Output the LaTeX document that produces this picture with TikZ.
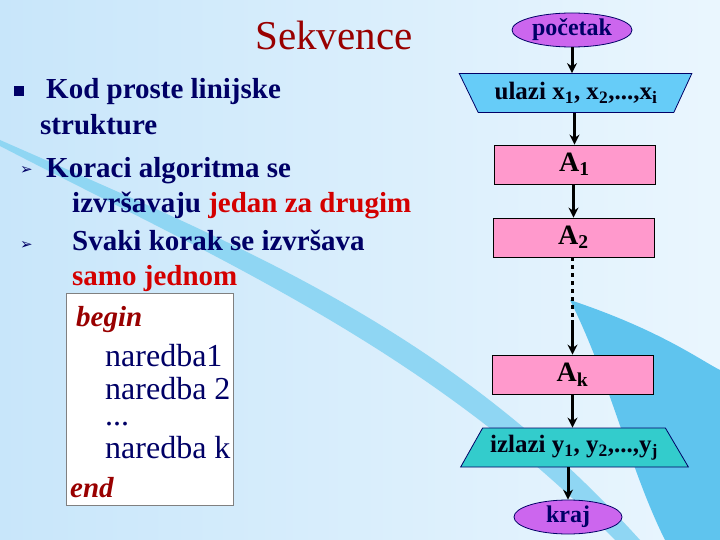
\documentclass[tikz,border=0pt]{standalone}
\usepackage{fontspec}
\setmainfont{Liberation Serif}
\newfontfamily\symfnt{DejaVu Sans}
\usetikzlibrary{shapes.geometric,arrows.meta}
\definecolor{bgA}{HTML}{C8E6FA}
\definecolor{bgB}{HTML}{EAF6FE}
\definecolor{swoosh}{HTML}{5FC4EE}
\definecolor{navy}{HTML}{000066}
\definecolor{dred}{HTML}{990000}
\definecolor{rd}{HTML}{D40000}
\definecolor{violet}{HTML}{CC66EE}
\definecolor{cyanf}{HTML}{66CCF8}
\definecolor{pinkf}{HTML}{FF99CC}
\definecolor{tealf}{HTML}{33CCCC}
\tikzset{
  oval/.style={ellipse,draw=navy,line width=0.8pt,fill=violet,minimum width=120pt,minimum height=34pt,inner sep=0pt,font=\fontsize{24}{26}\selectfont\bfseries,text=navy},
  proc/.style={rectangle,draw=black,line width=0.8pt,fill=pinkf,minimum width=161pt,minimum height=39pt,inner sep=0pt,font=\fontsize{28}{30}\selectfont\bfseries},
  io/.style={trapezium,draw=navy,line width=0.8pt,trapezium stretches=true,minimum height=39pt,inner sep=0pt,font=\fontsize{25}{27}\selectfont\bfseries,text=black!80!navy},
  arr/.style={line width=3pt,-{Stealth[length=10pt,width=10pt]}},
  lt/.style={anchor=base west,inner sep=0pt,text=navy,font=\fontsize{29}{31}\selectfont\bfseries},
  code/.style={anchor=base west,inner sep=0pt,text=navy,font=\fontsize{32}{34}\selectfont}
}
\begin{document}
\begin{tikzpicture}[x=1pt,y=-1pt]
\useasboundingbox (0,0) rectangle (720,540);
\shade[left color=bgA,right color=bgB] (0,0) rectangle (720,540);
% swoosh decorations
\fill[swoosh!70] (0,140) .. controls (250,250) and (450,330) .. (640,540) -- (615,540) .. controls (430,350) and (220,260) .. (0,146) -- cycle;
\fill[swoosh] (570,300) .. controls (660,330) and (700,360) .. (720,370) -- (720,540) -- (665,540) .. controls (630,470) and (610,380) .. (570,300) -- cycle;
% title & text
\node[anchor=base,inner sep=0pt,text=dred,font=\fontsize{41}{43}\selectfont] (title) at (334,50) {Sekvence};
\fill[navy] (14,86) rectangle (24,96);
\node[lt] (t1) at (46,99) {Kod proste linijske};
\node[lt] (t2) at (40,135) {strukture};
\node[anchor=base west,inner sep=0pt,text=navy,font=\symfnt\fontsize{15}{15}\selectfont] (b1) at (20,175) {➢};
\node[lt] (t3) at (46,178) {Koraci algoritma se};
\node[lt] (t4) at (72,212) {izvršavaju \textcolor{rd}{jedan za drugim}};
\node[anchor=base west,inner sep=0pt,text=navy,font=\symfnt\fontsize{15}{15}\selectfont] (b2) at (20,249) {➢};
\node[lt] (t5) at (72,251) {Svaki korak se izvršava};
\node[lt,text=rd] (t6) at (72,285) {samo jednom};
\draw[gray,fill=white,line width=0.8pt] (66,293) rectangle (233,505);
\node[code,text=dred,font=\fontsize{29}{31}\selectfont\bfseries\itshape] (c1) at (76,326) {begin};
\node[code] (c2) at (105,366) {naredba1};
\node[code] (c3) at (105,399) {naredba 2};
\node[code] (c4) at (105,425) {...};
\node[code] (c5) at (105,458) {naredba k};
\node[code,text=dred,font=\fontsize{29}{31}\selectfont\bfseries\itshape] (c6) at (70,497) {end};
% flowchart
\node[oval] (start) at (572,30) {početak};
\node[io,fill=cyanf,minimum width=233pt,trapezium left angle=54.7,trapezium right angle=53.4,shape border rotate=180] (in) at (576,93) {ulazi x$_{\mathbf 1}$, x$_{\mathbf 2}$,...,x$_{\mathbf i}$};
\node[proc] (a1) at (574.5,164.5) {A$_{\mathbf 1}$};
\node[proc] (a2) at (573.5,237.5) {A$_{\mathbf 2}$};
\node[proc] (ak) at (572.5,374.5) {A$_{\mathbf k}$};
\node[io,fill=tealf,minimum width=228pt,trapezium left angle=50.9,trapezium right angle=49.6] (out) at (574,447.5) {izlazi y$_{\mathbf 1}$, y$_{\mathbf 2}$,...,y$_{\mathbf j}$};
\node[oval,minimum width=108pt] (end) at (568,517) {kraj};
\coordinate (dd) at (ak.north |- 0,320);
\draw[arr] (start) -- (start|-in.north);
\draw[arr] (in.south -| a1.north) -- (a1.north);
\draw[arr] (a1.south -| a2.north) -- (a2.north);
\draw[line width=3pt,dash pattern=on 4pt off 4pt] (a2.south -| dd) -- (dd);
\draw[arr] (dd) -- (ak.north);
\draw[arr] (ak.south) -- (ak.south|-out.north);
\draw[arr] (out.south -| end.north) -- (end.north);
\end{tikzpicture}
\end{document}
